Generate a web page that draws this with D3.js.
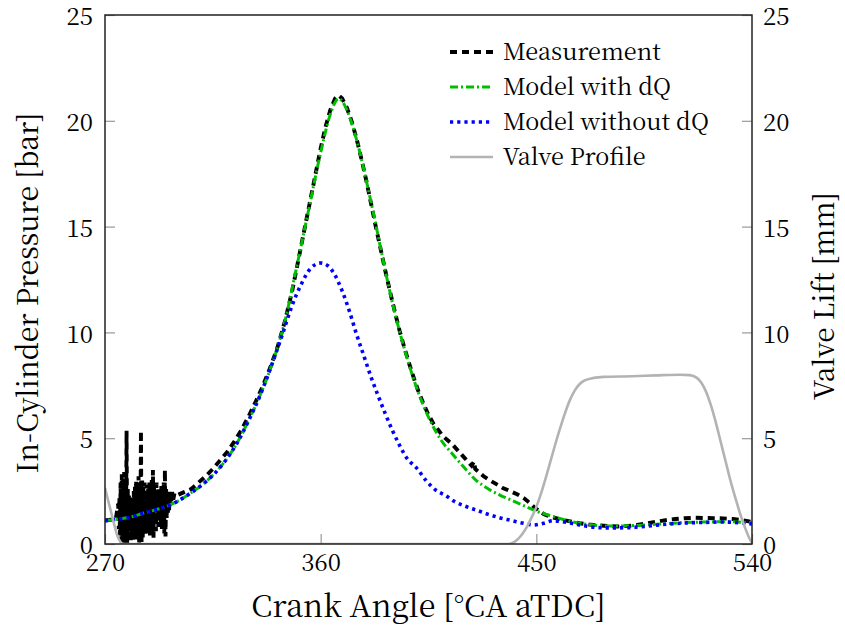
<!DOCTYPE html>
<html><head><meta charset="utf-8">
<script src="https://cdn.jsdelivr.net/npm/d3@7"></script>
<style>body{margin:0;background:#fff}</style>
</head><body>
<svg id="chart" width="845" height="629"></svg>
<script>
// ---------- DATA ----------
const xTicks = [270, 360, 450, 540];
const yTicks = [0, 5, 10, 15, 20, 25];
const legendLabels = ["Measurement", "Model with dQ", "Model without dQ", "Valve Profile"];

const measAngle = [270,271.5,273,274.5,275.5,275.75,276,276.25,276.5,276.75,277,277.25,277.5,277.75,278,278.25,278.5,278.75,279,279.25,279.5,279.75,280,280.25,280.5,280.75,281,281.25,281.5,281.75,282,282.25,282.5,282.75,283,283.25,283.5,283.75,284,284.25,284.5,284.75,285,285.25,285.5,285.75,286,286.25,286.5,286.75,287,287.25,287.5,287.75,288,288.25,288.5,288.75,289,289.25,289.5,289.75,290,290.25,290.5,290.75,291,291.25,291.5,291.75,292,292.25,292.5,292.75,293,293.25,293.5,293.75,294,294.25,294.5,294.75,295,295.25,295.5,295.75,296,296.25,296.5,296.75,297,297.25,297.5,297.75,298,298.5,299,300,303,306,309,312,315,318,321,324,327,330,333,336,339,342,345,348,351,354,357,360,362,364,366,367.5,369,371,373,375,377,379,381,383,385,387,389,391,393,395,397,399,401,403,405,407,409,411,413,415,417,419,421,423,424,424.5,426,428,430,433,436,439,442,445,447,449,451,453,456,459,462,465,468,472,476,480,484,488,492,496,500,504,508,512,516,520,524,528,532,536,540];
const measP = [1.12,1.13,1.16,1.19,1.9,0.7,2.2,0.4,2.9,0.1,3.3,0.2,3.1,0.0,3.4,0.3,2.8,0.1,5.35,0.0,2.6,0.2,2.3,0.4,2.1,0.1,2.2,0.5,1.9,0.2,2.5,0.3,2.7,0.1,3.0,0.3,2.6,0.2,3.2,0.0,2.9,0.2,5.35,0.1,3.0,0.3,2.7,0.5,2.9,0.4,2.5,0.7,2.8,0.5,2.6,0.6,3.0,0.4,2.7,0.8,3.1,0.3,3.5,0.3,2.8,0.9,2.6,0.6,2.9,1.0,2.5,0.8,2.7,1.1,2.4,0.9,2.8,0.7,2.6,1.0,2.9,0.5,3.5,0.35,2.6,1.2,2.5,1.4,2.4,1.6,2.5,1.8,2.4,2.0,2.45,2.1,2.4,2.3,2.45,2.6,2.9,3.2,3.55,3.95,4.35,4.85,5.4,6.05,6.75,7.5,8.35,9.3,10.5,11.9,13.6,15.3,17.0,18.7,19.7,20.5,21.05,21.2,21.05,20.6,19.95,19.15,18.2,17.2,16.1,15.0,13.95,12.9,11.9,10.95,10.05,9.25,8.5,7.8,7.15,6.6,6.1,5.7,5.4,5.1,4.9,4.7,4.45,4.2,3.95,3.7,3.9,3.55,3.4,3.2,3.05,2.85,2.65,2.5,2.35,2.15,1.97,1.75,1.58,1.42,1.28,1.2,1.12,1.05,0.98,0.92,0.88,0.85,0.83,0.85,0.9,0.97,1.05,1.13,1.18,1.22,1.24,1.23,1.22,1.21,1.18,1.12,1.05];

const dqAngle = [270,275,280,285,290,295,300,305,310,315,320,325,330,335,340,345,350,355,360,364,367.5,371,375,379,383,387,391,395,400,405,410,415,420,425,430,435,440,445,450,455,460,465,470,480,490,500,510,520,530,540];
const dqP = [1.1,1.17,1.25,1.42,1.58,1.75,2.0,2.35,2.75,3.25,3.9,4.75,5.85,7.1,8.6,10.5,13.1,15.8,18.5,20.3,21.05,20.5,19.1,17.2,15.1,12.9,10.9,9.2,7.4,6.0,4.95,4.25,3.6,3.0,2.6,2.3,2.05,1.8,1.55,1.37,1.2,1.05,0.95,0.85,0.87,0.93,1.0,1.04,1.05,1.0];

const noDqAngle = [270,275,280,285,290,295,300,305,310,315,320,325,330,335,340,344,348,352,356,360,363,366,369,372,375,378,381,384,387,390,393,396,400,404,408,412,416,420,425,430,435,440,445,449,453,457,461,466,472,480,488,496,504,512,520,528,535,540];
const noDqP = [1.1,1.17,1.25,1.42,1.58,1.75,2.0,2.35,2.75,3.25,3.9,4.75,5.85,7.1,8.6,9.9,11.25,12.3,13.05,13.28,13.15,12.7,11.95,11.0,9.9,8.9,7.9,7.0,6.15,5.35,4.65,4.05,3.6,3.0,2.55,2.3,2.0,1.8,1.6,1.4,1.23,1.1,0.97,0.9,0.98,1.1,1.05,0.95,0.82,0.76,0.77,0.84,0.93,0.99,1.02,1.04,1.0,0.95];

const valveAngle = [270,271,272,273,274,275,276,277,278,438,440,442,444,446,448,450,452,454,456,458,460,462,464,466,468,470,474,478,490,500,510,514,517,519,521,523,525,527,529,531,533,535,537,539,540];
const valveLift = [2.65,2.2,1.75,1.3,0.85,0.45,0.18,0.03,0,0,0.05,0.2,0.45,0.8,1.25,1.75,2.4,3.15,3.95,4.75,5.5,6.2,6.8,7.25,7.55,7.72,7.85,7.9,7.93,7.97,8.0,7.98,7.85,7.6,7.15,6.5,5.7,4.8,3.9,3.0,2.2,1.45,0.8,0.25,0.05];

// ---------- CHART ----------
const FONT = '"Noto Serif CJK SC"';
const svg = d3.select("#chart");
const L = 105, R = 752, T = 15, B = 544;
const x = d3.scaleLinear().domain([270, 540]).range([L, R]);
const y = d3.scaleLinear().domain([0, 25]).range([B, T]);
const y2 = d3.scaleLinear().domain([0, 25]).range([B, T]);

svg.append("defs").append("clipPath").attr("id","clip")
  .append("rect").attr("x",L).attr("y",T).attr("width",R-L).attr("height",B-T);

const series = [
  {a: measAngle, v: measP, color:"#000", w:3.9, dash:"7,5", curve:d3.curveLinear},
  {a: dqAngle, v: dqP, color:"#00bf00", w:3, dash:"8,3,2,3", curve:d3.curveMonotoneX},
  {a: noDqAngle, v: noDqP, color:"#0000ff", w:3.6, dash:"3.2,4", curve:d3.curveMonotoneX},
  {a: valveAngle, v: valveLift, color:"#b3b3b3", w:2.6, dash:null, curve:d3.curveMonotoneX, ax:y2}
];

const plot = svg.append("g").attr("clip-path","url(#clip)");
series.forEach(s => {
  const yy = s.ax || y;
  const line = d3.line().x((d,i)=>x(s.a[i])).y((d,i)=>yy(s.v[i])).curve(s.curve);
  plot.append("path").datum(s.v)
    .attr("d", line).attr("fill","none")
    .attr("stroke", s.color).attr("stroke-width", s.w)
    .attr("stroke-dasharray", s.dash).attr("stroke-linejoin","miter");
});

// axes
const fs = 24;
const gx = svg.append("g").attr("transform",`translate(0,${B})`)
  .call(d3.axisBottom(x).tickValues(xTicks).tickSize(-10).tickPadding(10).tickFormat(d3.format("d")));
const gy = svg.append("g").attr("transform",`translate(${L},0)`)
  .call(d3.axisLeft(y).tickValues(yTicks).tickSize(-10).tickPadding(12).tickFormat(d3.format("d")));
const gy2 = svg.append("g").attr("transform",`translate(${R},0)`)
  .call(d3.axisRight(y2).tickValues(yTicks).tickSize(-10).tickPadding(11).tickFormat(d3.format("d")));
[gx, gy, gy2].forEach(g => {
  g.select(".domain").remove();
  g.selectAll(".tick line").attr("stroke","#999").attr("stroke-width",1.2);
  g.selectAll("text").style("font-family", FONT).style("font-size", fs+"px").attr("fill","#000");
});
[gy, gy2].forEach(g => g.selectAll("text").attr("dy","0.4em"));

// frame
svg.append("rect").attr("x",L).attr("y",T).attr("width",R-L).attr("height",B-T)
  .attr("fill","none").attr("stroke","#222").attr("stroke-width",1.5);

// axis titles
svg.append("text").attr("x",(L+R)/2).attr("y",617).attr("text-anchor","middle")
  .style("font-family", FONT).style("font-size","30.5px").text("Crank Angle [°CA aTDC]");
svg.append("text").attr("transform",`translate(38,293) rotate(-90)`)
  .attr("text-anchor","middle").style("font-family", FONT).style("font-size","28.5px").text("In-Cylinder Pressure [bar]");
svg.append("text").attr("transform",`translate(834,296) rotate(-90)`)
  .attr("text-anchor","middle").style("font-family", FONT).style("font-size","28px").text("Valve Lift [mm]");

// legend
const lg = svg.append("g");
legendLabels.forEach((lab, i) => {
  const s = series[i];
  const cy = 52 + i*35;
  lg.append("line").attr("x1",450).attr("x2",493).attr("y1",cy).attr("y2",cy)
    .attr("stroke",s.color).attr("stroke-width",s.w).attr("stroke-dasharray",s.dash);
  lg.append("text").attr("x",503).attr("y",cy).attr("dy","0.33em")
    .style("font-family", FONT).style("font-size","23.5px").text(lab);
});
</script>
</body></html>
